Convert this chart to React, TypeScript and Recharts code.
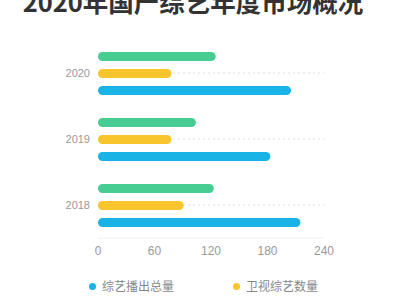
import { BarChart, Bar, XAxis, YAxis, CartesianGrid, Legend } from "recharts";

const years = ["2020", "2019", "2018"];
const totalShows = [205, 183, 215]; // 综艺播出总量
const satelliteShows = [78, 78, 91]; // 卫视综艺数量
const onlineShows = [125, 104, 123]; // 网络综艺数量
const xTicks = [0, 60, 120, 180, 240];

const SERIES = [
  { key: "total", name: "综艺播出总量", color: "#1AB3E6" },
  { key: "satellite", name: "卫视综艺数量", color: "#F9C52C" },
  { key: "online", name: "网络综艺数量", color: "#47CC91" },
];

const data = years.map((year, i) => ({
  year,
  total: totalShows[i],
  satellite: satelliteShows[i],
  online: onlineShows[i],
}));

const FONT = "'Noto Sans CJK SC', 'Noto Sans', sans-serif";

// 图例：第三项换行后被画面底边裁掉
const CustomLegend = () => (
  <div
    style={{
      display: "flex",
      flexWrap: "wrap",
      justifyContent: "flex-start",
      boxSizing: "border-box",
      width: 400,
      paddingLeft: 89,
      columnGap: 54,
      rowGap: 10,
      paddingTop: 10,
      height: 32,
      overflow: "hidden",
      fontFamily: FONT,
      fontSize: 12,
      color: "#888",
    }}
  >
    {SERIES.map((s) => (
      <div key={s.key} style={{ display: "flex", alignItems: "center", lineHeight: "16px", width: 90 }}>
        <span
          style={{
            width: 7,
            height: 7,
            borderRadius: "50%",
            background: s.color,
            marginRight: 6,
            display: "inline-block",
          }}
        />
        {s.name}
      </div>
    ))}
  </div>
);

export default function App() {
  return (
    <div style={{ position: "absolute", left: 0, top: 0, width: 400, height: 300, background: "#fff" }}>
      <svg width={400} height={40} style={{ position: "absolute", left: 0, top: 0 }}>
        <text
          x={193}
          y={12}
          textAnchor="middle"
          fontFamily={FONT}
          fontWeight="bold"
          fontSize={25.5}
          fill="#333"
        >
          2020年国产综艺年度市场概况
        </text>
      </svg>
      <BarChart
        width={400}
        height={300}
        data={data}
        layout="vertical"
        margin={{ top: 40, right: 76, left: 0, bottom: 0 }}
        barSize={9}
        barGap={8}
      >
        <CartesianGrid vertical={false} syncWithTicks stroke="#ddd" strokeDasharray="2 3" />
        <XAxis
          type="number"
          domain={[0, 240]}
          ticks={xTicks}
          tick={{ fill: "#999", fontSize: 12, fontFamily: "Arial, sans-serif" }}
          axisLine={{ stroke: "#eee" }}
          tickLine={false}
          height={30}
        />
        <YAxis
          type="category"
          dataKey="year"
          width={98}
          tick={{ fill: "#999", fontSize: 11, fontFamily: "Arial, sans-serif" }}
          axisLine={false}
          tickLine={false}
        />
        <Legend verticalAlign="bottom" content={<CustomLegend />} wrapperStyle={{ height: 32, left: 0, width: 400 }} />
        <Bar dataKey="online" name="网络综艺数量" fill="#47CC91" radius={[5, 5, 5, 5]} isAnimationActive={false} />
        <Bar dataKey="satellite" name="卫视综艺数量" fill="#F9C52C" radius={[5, 5, 5, 5]} isAnimationActive={false} />
        <Bar dataKey="total" name="综艺播出总量" fill="#1AB3E6" radius={[5, 5, 5, 5]} isAnimationActive={false} />
      </BarChart>
    </div>
  );
}
